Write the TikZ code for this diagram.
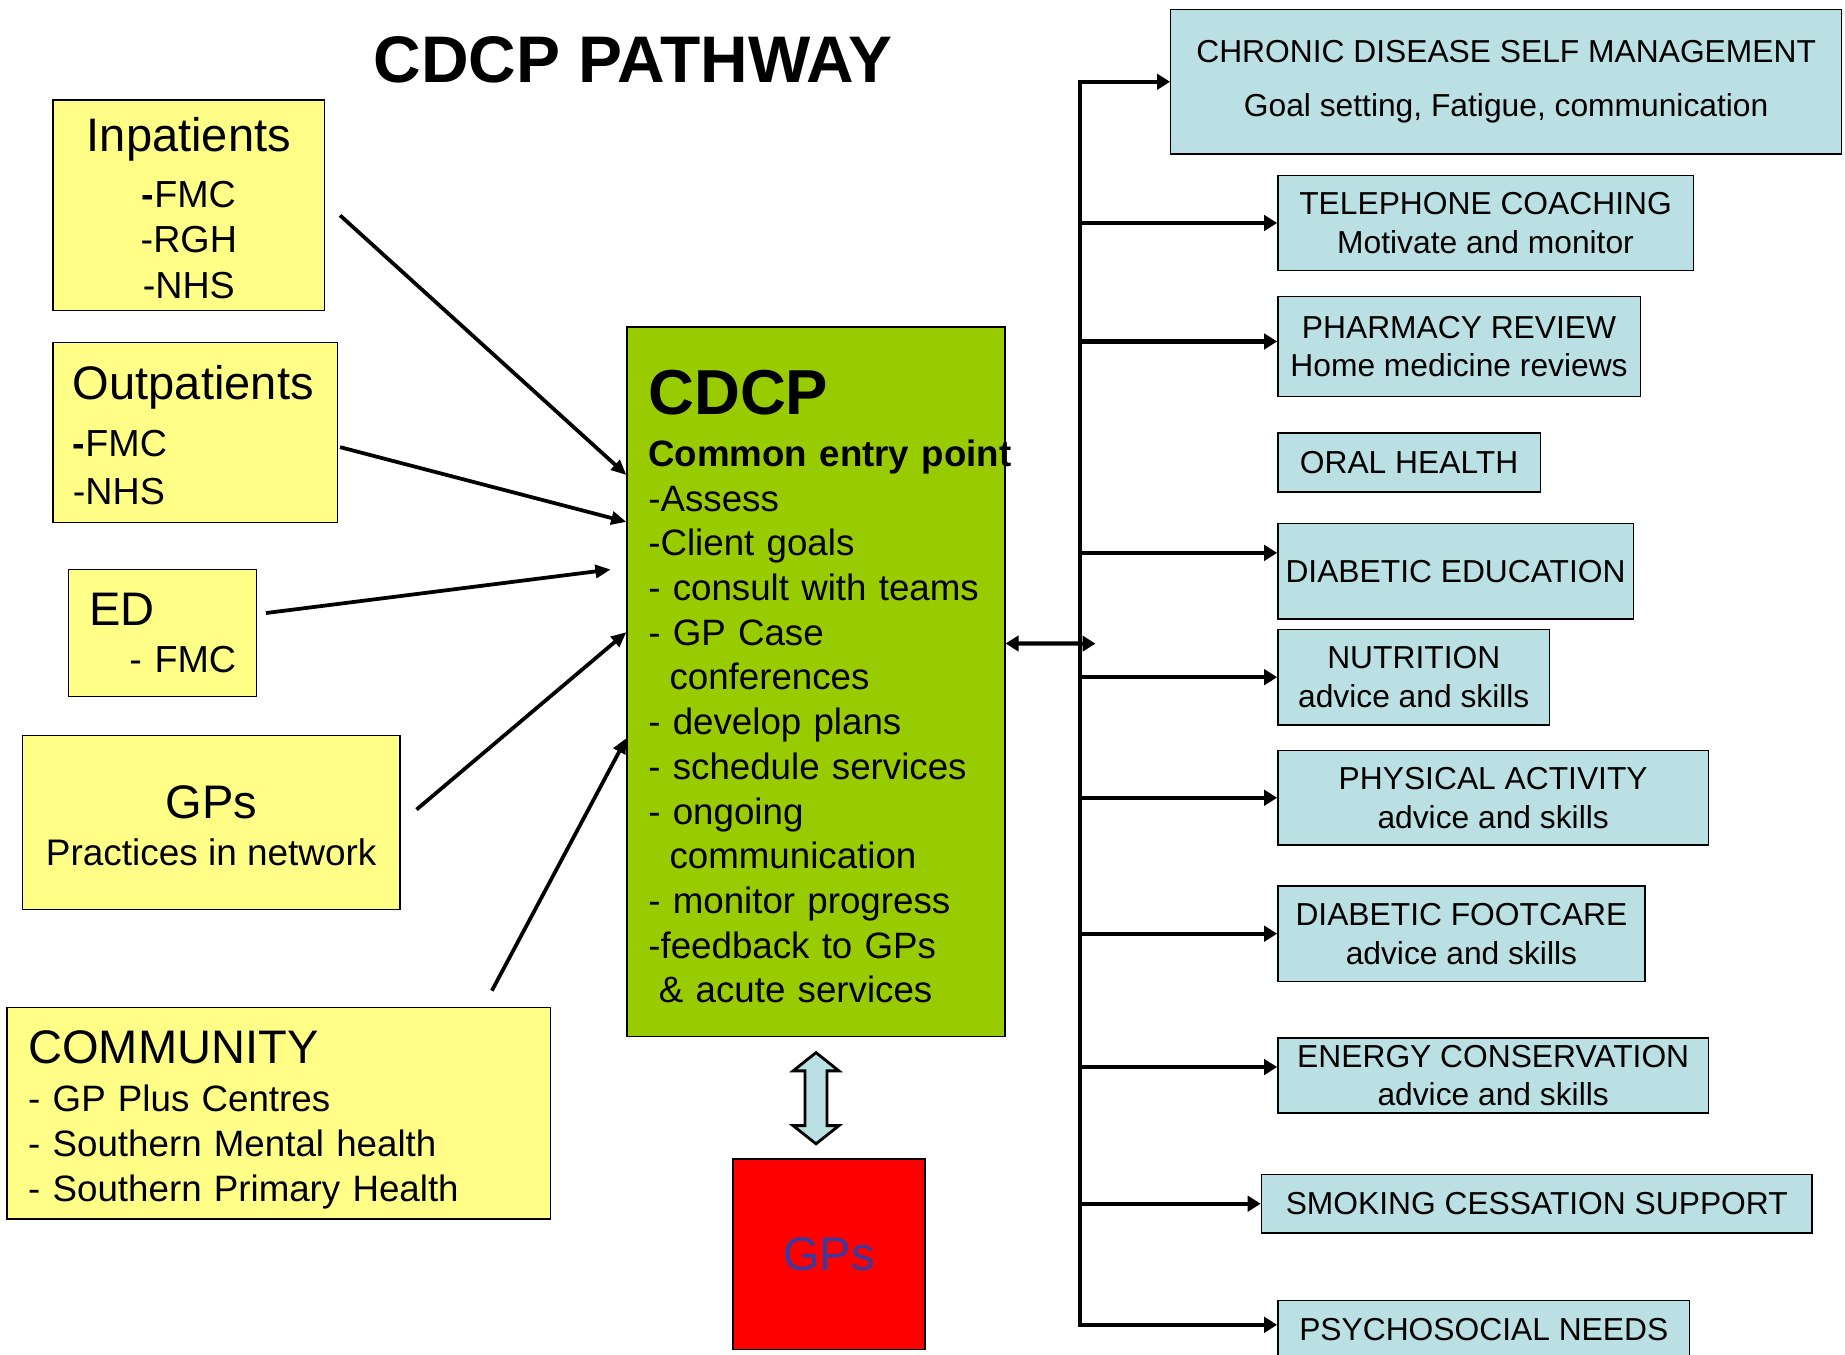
\documentclass[tikz,border=0pt]{standalone}
\usepackage{fontspec}
\setmainfont{Liberation Sans}
\usetikzlibrary{arrows.meta,calc}

\definecolor{noteyellow}{HTML}{FFFF88}
\definecolor{hubgreen}{HTML}{99CC00}
\definecolor{servblue}{HTML}{BBE0E3}
\definecolor{gpbox}{HTML}{FF0000}
\definecolor{gptext}{HTML}{3A3A9E}

\tikzset{
  tipb/.tip={Triangle[length=5.5pt,width=6.5pt]},
  tipf/.tip={Triangle[length=6.5pt,width=5.5pt]},
}

\begin{document}
\begin{tikzpicture}[x=0.5pt,y=-0.5pt,
  box/.style={draw=black, line width=0.6pt, inner sep=0pt, rectangle},
  source/.style={box, fill=noteyellow},
  service/.style={box, fill=servblue, align=center,
    font=\fontsize{13.5}{16.5}\selectfont},
  feed/.style={line width=1.6pt, -{tipf}},
  bus/.style={line width=1.8pt, line join=miter},
]
\fill[white] (0,0) rectangle (1568,1151);
\useasboundingbox (0,0) rectangle (1568,1151);

% title
\node[font=\fontsize{28}{28}\selectfont\bfseries, inner sep=0pt] (title) at (538,51) {CDCP PATHWAY};

% referral sources
\node[source, minimum width=115.5pt, minimum height=89.5pt, align=center,
      font=\fontsize{16}{19.25}\selectfont] (inp) at (160.5,174.5)
  {\rule{0pt}{16.5pt}{\fontsize{20}{20}\selectfont Inpatients}\\[4.75pt]
   \textbf{-}FMC\\ -RGH\\ -NHS};

\node[source, minimum width=121pt, minimum height=76.5pt, text width=104pt,
      inner xsep=8.5pt, align=left, font=\fontsize{16}{20}\selectfont] (outp) at (166,367.5)
  {\rule{0pt}{16.5pt}{\fontsize{20}{20}\selectfont Outpatients}\\[4.5pt]
   \textbf{-}FMC\\ -NHS};

\node[source, minimum width=80pt, minimum height=54pt, text width=62pt,
      inner xsep=9pt, align=left, font=\fontsize{16}{20}\selectfont] (ed) at (138,538)
  {{\fontsize{20}{20}\selectfont ED}\\ \mbox{\hspace*{17pt}- FMC}};

\node[source, minimum width=160.5pt, minimum height=74pt, align=center,
      font=\fontsize{15.7}{20}\selectfont] (gps) at (179.5,699)
  {\rule{0pt}{16.5pt}{\fontsize{20}{20}\selectfont GPs}\\ Practices in network};

\node[source, minimum width=231pt, minimum height=90pt, text width=213pt,
      inner xsep=9pt, align=left, font=\fontsize{15.6}{19}\selectfont] (comm) at (237,946)
  {\rule{0pt}{19.5pt}{\fontsize{20}{20}\selectfont COMMUNITY}\\[1.5pt]
   - GP Plus Centres\\ - Southern Mental health\\ - Southern Primary Health};

% central entry point
\node[box, fill=hubgreen, minimum width=160.5pt, minimum height=301.5pt,
      text width=142.5pt, inner xsep=9pt, align=left,
      font=\fontsize{15.6}{19}\selectfont] (cdcp) at (693.5,579.5)
  {\rule{0pt}{23pt}{\fontsize{27}{27}\selectfont\bfseries CDCP}\\[3pt]
   \mbox{\bfseries Common entry point}\\
   \mbox{-Assess}\\
   \mbox{-Client goals}\\
   \mbox{- consult with teams}\\
   \mbox{- GP Case}\\
   \mbox{\hspace*{9pt}conferences}\\
   \mbox{- develop plans}\\
   \mbox{- schedule services}\\
   \mbox{- ongoing}\\
   \mbox{\hspace*{9pt}communication}\\
   \mbox{- monitor progress}\\
   \mbox{-feedback to GPs}\\
   \mbox{\hspace*{4.5pt}\& acute services}};

\node[box, fill=gpbox, minimum width=81.5pt, minimum height=81pt, text=gptext,
      font=\fontsize{20}{20}\selectfont] (gpred) at (704.5,1066) {GPs};

% services
\node[service, minimum width=285pt, minimum height=61.5pt,
      font=\fontsize{13.5}{23}\selectfont] (r1) at (1280,69.5)
  {CHRONIC DISEASE SELF MANAGEMENT\\ Goal setting, Fatigue, communication};
\node[service, minimum width=176.5pt, minimum height=40.5pt] (r2) at (1262.5,189.5)
  {TELEPHONE COACHING\\ Motivate and monitor};
\node[service, minimum width=154pt, minimum height=42.5pt] (r3) at (1240,294.5)
  {PHARMACY REVIEW\\ Home medicine reviews};
\node[service, minimum width=111.5pt, minimum height=25pt] (r4) at (1197.5,393)
  {ORAL HEALTH};
\node[service, minimum width=151pt, minimum height=40.5pt] (r5) at (1237,485.5)
  {DIABETIC EDUCATION};
\node[service, minimum width=115.5pt, minimum height=40.5pt] (r6) at (1201.5,575.5)
  {NUTRITION\\ advice and skills};
\node[service, minimum width=183pt, minimum height=40pt] (r7) at (1269,678)
  {PHYSICAL ACTIVITY\\ advice and skills};
\node[service, minimum width=156pt, minimum height=40.5pt] (r8) at (1242,793.5)
  {DIABETIC FOOTCARE\\ advice and skills};
\node[service, minimum width=183pt, minimum height=32pt] (r9) at (1269,914)
  {ENERGY CONSERVATION\\ advice and skills};
\node[service, minimum width=234pt, minimum height=25pt] (r10) at (1306,1023)
  {SMOKING CESSATION SUPPORT};
\node[service, minimum width=175pt, minimum height=25pt] (r11) at (1261,1130)
  {PSYCHOSOCIAL NEEDS};

% arrows from the sources into the entry point
\coordinate (inpS) at (289,183);
\coordinate (outS) at (289,380);
\coordinate (edS)  at (226,521);
\coordinate (edE)  at (519,484);
\coordinate (gpS)  at (354,688);
\coordinate (comS) at (418,842);
\draw[feed] (inpS) -- ($(cdcp.north west)!0.209!(cdcp.south west)$);
\draw[feed] (outS) -- ($(cdcp.north west)!0.275!(cdcp.south west)$);
\draw[feed] (edS) -- (edE);
\draw[feed] (gpS) -- ($(cdcp.north west)!0.43!(cdcp.south west)$);
\draw[feed] (comS) -- ($(cdcp.north west)!0.579!(cdcp.south west)$);

% two-way link to the GPs
\coordinate (dtop) at ($(cdcp.south)+(0,13)$);
\draw[line width=1.2pt, fill=servblue, line join=miter]
  (dtop) -- ++(19.5,15.5) -- ++(-10.2,0) -- ++(0,46.5) -- ++(10.2,0)
  -- ++(-19.5,15.5) -- ++(-19.5,-15.5) -- ++(10.2,0) -- ++(0,-46.5)
  -- ++(-10.2,0) -- cycle;

% distribution bus to the services
\coordinate (busx) at (918,547);
\coordinate (hubR) at (931,547);
\draw[bus, {tipb}-{tipb}] ($(cdcp.north east)!0.446!(cdcp.south east)$) -- (hubR);
\coordinate (r11in) at ($(r11.north west)!0.42!(r11.south west)$);
\draw[bus, {tipb}-{tipb}] (r11in) -| (busx |- r1.west) -- (r1.west);
\foreach \r in {r2,r6,r7,r8,r10}{
  \draw[bus, -{tipb}] (busx |- \r.west) -- (\r.west);
}
\coordinate (r3in) at ($(r3.north west)!0.45!(r3.south west)$);
\coordinate (r5in) at ($(r5.north west)!0.31!(r5.south west)$);
\coordinate (r9in) at ($(r9.north west)!0.39!(r9.south west)$);
\foreach \p in {r3in,r5in,r9in}{
  \draw[bus, -{tipb}] (busx |- \p) -- (\p);
}
\end{tikzpicture}
\end{document}
